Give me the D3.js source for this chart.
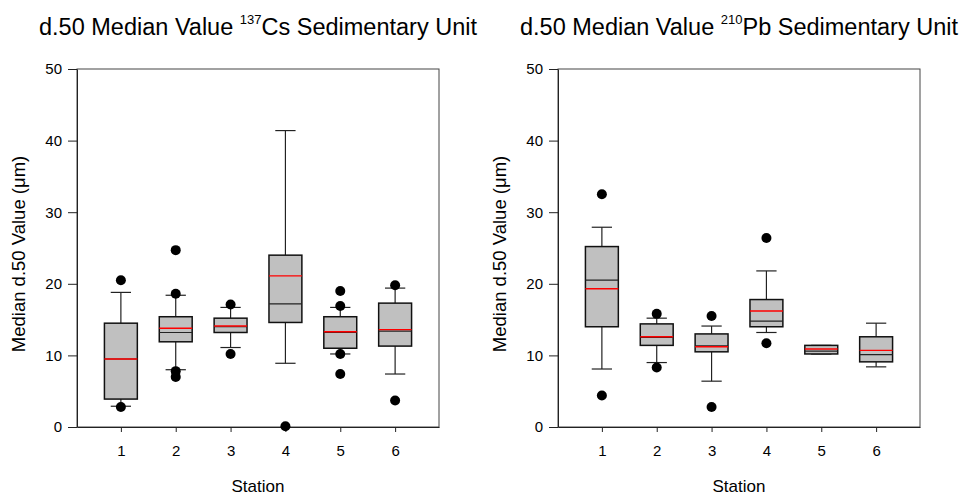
<!DOCTYPE html>
<html>
<head>
<meta charset="utf-8">
<script src="https://cdn.jsdelivr.net/npm/d3@7"></script>
<style>
  body { margin: 0; background: #fff; }
  svg text { font-family: "Liberation Sans", Arial, sans-serif; fill: #000; }
</style>
</head>
<body>
<svg width="967" height="495"></svg>
<script>
// chart values
var stations = [1, 2, 3, 4, 5, 6];
var yTicks = [0, 10, 20, 30, 40, 50];

// 137Cs sedimentary unit
var csLow    = [2.9, 8.0, 11.1, 8.9, 10.2, 7.4];
var csQ1     = [3.9, 11.9, 13.2, 14.6, 11.0, 11.3];
var csMedian = [9.5, 13.2, 14.0, 17.2, 13.2, 13.4];
var csMean   = [9.5, 13.8, 14.1, 21.1, 13.3, 13.6];
var csQ3     = [14.5, 15.4, 15.2, 24.0, 15.4, 17.3];
var csHigh   = [18.8, 18.4, 16.7, 41.4, 16.7, 19.4];
var csOutliers = [[20.5, 2.8], [24.7, 18.6, 7.8, 7.0], [17.1, 10.2], [0.1], [19.0, 16.9, 10.2, 7.4], [19.8, 3.7]];

// 210Pb sedimentary unit
var pbLow    = [8.1, 9.0, 6.4, 13.2, 10.2, 8.4];
var pbQ1     = [14.0, 11.4, 10.5, 14.0, 10.2, 9.1];
var pbMedian = [20.5, 12.5, 11.35, 14.8, 10.6, 10.1];
var pbMean   = [19.3, 12.6, 11.2, 16.2, 10.9, 10.7];
var pbQ3     = [25.2, 14.4, 13.0, 17.8, 11.4, 12.6];
var pbHigh   = [27.9, 15.2, 14.1, 21.8, 11.4, 14.5];
var pbOutliers = [[32.5, 4.4], [15.8, 8.3], [15.5, 2.8], [26.4, 11.7], [], []];

function rows(low, q1, med, mean, q3, high, outs) {
    return stations.map(function(s, i){
        return {station: s, low: low[i], q1: q1[i], median: med[i], mean: mean[i], q3: q3[i], high: high[i], outliers: outs[i]};
    });
}

var panels = [
    {left: 77, right: 439, iso: "137", el: "Cs", data: rows(csLow, csQ1, csMedian, csMean, csQ3, csHigh, csOutliers)},
    {left: 558, right: 920, iso: "210", el: "Pb", data: rows(pbLow, pbQ1, pbMedian, pbMean, pbQ3, pbHigh, pbOutliers)}
];

var plotTop = 69, plotBottom = 427;
var svg = d3.select('svg');

panels.forEach(function(p){
    var x = d3.scaleLinear().domain([0.2, 6.8]).range([p.left, p.right]);
    var y = d3.scaleLinear().domain([0, 50]).range([plotBottom, plotTop]);
    var step = x(2) - x(1);
    var boxW = step * 0.6;
    var capW = step * 0.37;
    var mid = (p.left + p.right) / 2;

    var g = svg.append('g');

    // frame
    g.append('rect')
        .attr('x', p.left).attr('y', plotTop)
        .attr('width', p.right - p.left).attr('height', plotBottom - plotTop)
        .attr('fill', 'none').attr('stroke', '#444').attr('stroke-width', 1);

    var yAxis = d3.axisLeft(y).tickValues(yTicks).tickSize(9).tickSizeOuter(0).tickPadding(6);
    var xAxis = d3.axisBottom(x).tickValues(stations).tickFormat(d3.format('d'))
        .tickSize(5).tickSizeOuter(0).tickPadding(13);

    g.append('g').attr('transform', 'translate(' + p.left + ',0)').call(yAxis)
        .call(function(a){ a.selectAll('text').style('font-size', '15px').style('font-family', '"Liberation Sans", Arial, sans-serif'); });
    g.append('g').attr('transform', 'translate(0,' + plotBottom + ')').call(xAxis)
        .call(function(a){ a.selectAll('text').style('font-size', '15px').style('font-family', '"Liberation Sans", Arial, sans-serif'); });
    g.selectAll('.domain, .tick line').attr('stroke', '#222');

    var boxes = g.selectAll('.box').data(p.data).enter().append('g').attr('class', 'box');

    // whiskers
    boxes.append('line')
        .attr('x1', function(d){ return x(d.station); }).attr('x2', function(d){ return x(d.station); })
        .attr('y1', function(d){ return y(d.q3); }).attr('y2', function(d){ return y(d.high); })
        .attr('stroke', '#222').attr('stroke-width', 1.2);
    boxes.append('line')
        .attr('x1', function(d){ return x(d.station); }).attr('x2', function(d){ return x(d.station); })
        .attr('y1', function(d){ return y(d.q1); }).attr('y2', function(d){ return y(d.low); })
        .attr('stroke', '#222').attr('stroke-width', 1.2);
    boxes.append('line')
        .attr('x1', function(d){ return x(d.station) - capW/2; }).attr('x2', function(d){ return x(d.station) + capW/2; })
        .attr('y1', function(d){ return y(d.high); }).attr('y2', function(d){ return y(d.high); })
        .attr('stroke', '#222').attr('stroke-width', 1.2);
    boxes.append('line')
        .attr('x1', function(d){ return x(d.station) - capW/2; }).attr('x2', function(d){ return x(d.station) + capW/2; })
        .attr('y1', function(d){ return y(d.low); }).attr('y2', function(d){ return y(d.low); })
        .attr('stroke', '#222').attr('stroke-width', 1.2);

    boxes.append('rect')
        .attr('x', function(d){ return x(d.station) - boxW/2; })
        .attr('y', function(d){ return y(d.q3); })
        .attr('width', boxW)
        .attr('height', function(d){ return y(d.q1) - y(d.q3); })
        .attr('fill', '#c0c0c0').attr('stroke', '#111').attr('stroke-width', 1.5);

    boxes.append('line')
        .attr('x1', function(d){ return x(d.station) - boxW/2; }).attr('x2', function(d){ return x(d.station) + boxW/2; })
        .attr('y1', function(d){ return y(d.median); }).attr('y2', function(d){ return y(d.median); })
        .attr('stroke', '#222').attr('stroke-width', 1.2);
    boxes.append('line')
        .attr('x1', function(d){ return x(d.station) - boxW/2; }).attr('x2', function(d){ return x(d.station) + boxW/2; })
        .attr('y1', function(d){ return y(d.mean); }).attr('y2', function(d){ return y(d.mean); })
        .attr('stroke', '#ff0000').attr('stroke-width', 1.4);

    boxes.selectAll('circle')
        .data(function(d){ return d.outliers.map(function(v){ return {station: d.station, v: v}; }); })
        .enter().append('circle')
        .attr('cx', function(d){ return x(d.station); })
        .attr('cy', function(d){ return y(d.v); })
        .attr('r', 5)
        .attr('fill', '#000');

    // title with superscript isotope
    var t = g.append('text')
        .attr('x', mid).attr('y', 35)
        .attr('text-anchor', 'middle')
        .style('font-size', '23.5px');
    t.append('tspan').text('d.50 Median Value ');
    t.append('tspan').attr('dy', -11).style('font-size', '13px').text(p.iso);
    t.append('tspan').attr('dy', 11).text(p.el + ' Sedimentary Unit');

    g.append('text')
        .attr('transform', 'translate(' + (p.left - 52) + ',' + ((plotTop + plotBottom) / 2 + 6) + ') rotate(-90)')
        .attr('text-anchor', 'middle')
        .style('font-size', '18.5px')
        .text('Median d.50 Value (\u03bcm)');

    g.append('text')
        .attr('x', mid).attr('y', 492)
        .attr('text-anchor', 'middle')
        .style('font-size', '17px')
        .text('Station');
});
</script>
</body>
</html>
